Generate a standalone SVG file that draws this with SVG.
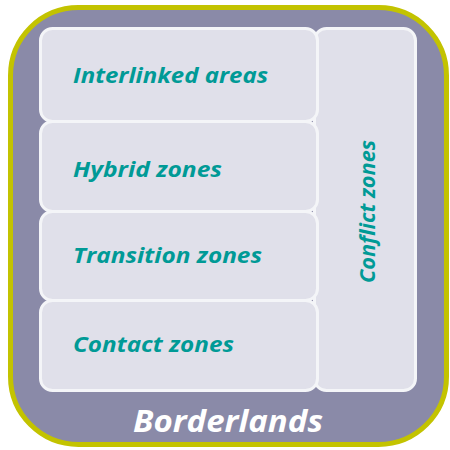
<svg xmlns="http://www.w3.org/2000/svg" width="450" height="450" viewBox="0 0 450 450">
<style>
.box{fill:#E0E0EA;stroke:#F4F5F8;stroke-width:3}
.lbl{font-family:"Open Sans","Noto Sans",sans-serif;font-weight:bold;font-style:italic;fill:#009A96;font-size:22px}
</style>
<g id="borderlands">
<rect x="10.5" y="7.5" width="436" height="437" rx="68" fill="#8A8AA8" stroke="#C3C300" stroke-width="5"/>
<text x="133" y="432" textLength="190" lengthAdjust="spacingAndGlyphs" font-family="'Open Sans','Noto Sans',sans-serif" font-weight="bold" font-style="italic" font-size="31" fill="#FFFFFF">Borderlands</text>
</g>
<g id="conflict">
<rect class="box" x="314.5" y="28.5" width="101" height="362" rx="12"/>
<text class="lbl" transform="translate(375 283) rotate(-90)" textLength="143" lengthAdjust="spacingAndGlyphs">Conflict zones</text>
</g>
<g id="interlinked">
<rect class="box" x="40.5" y="28.5" width="277" height="93" rx="12"/>
<text class="lbl" x="73" y="83" textLength="195" lengthAdjust="spacingAndGlyphs">Interlinked areas</text>
</g>
<g id="hybrid">
<rect class="box" x="40.5" y="121.5" width="277" height="90" rx="12"/>
<text class="lbl" x="73" y="177" textLength="149" lengthAdjust="spacingAndGlyphs">Hybrid zones</text>
</g>
<g id="transition">
<rect class="box" x="40.5" y="211.5" width="277" height="89" rx="12"/>
<text class="lbl" x="73" y="263" textLength="189" lengthAdjust="spacingAndGlyphs">Transition zones</text>
</g>
<g id="contact">
<rect class="box" x="40.5" y="300.5" width="277" height="90" rx="12"/>
<text class="lbl" x="73" y="352" textLength="161" lengthAdjust="spacingAndGlyphs">Contact zones</text>
</g>
<g id="connectors"/>
</svg>
